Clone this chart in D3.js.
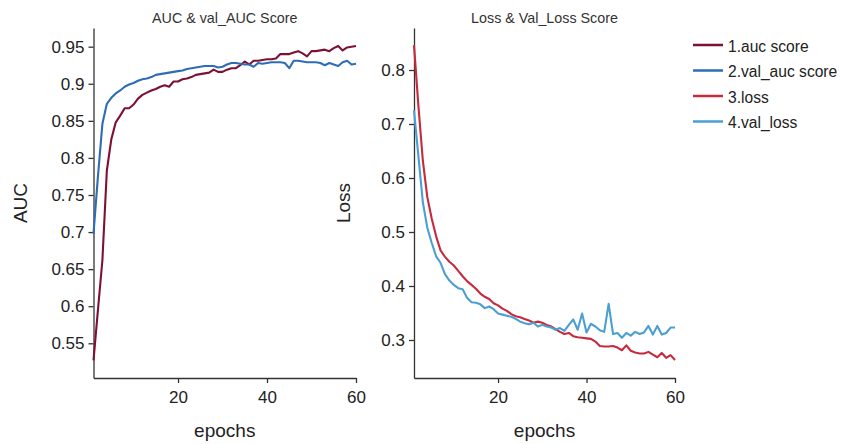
<!DOCTYPE html>
<html>
<head>
<meta charset="utf-8">
<script src="https://cdn.jsdelivr.net/npm/d3@7"></script>
<style>
  body { margin: 0; background: #fff; }
  svg { display: block; font-family: "Liberation Sans", Arial, sans-serif; }
  .axis path, .axis line { stroke: #333; stroke-width: 1.3; }
  .axis text { fill: #222; font-size: 17px; }
</style>
</head>
<body>
<div id="chart"></div>
<script>
// ---- data ----
const epochs = d3.range(1, 61);

const aucScore = [
  0.527, 0.595, 0.662, 0.783, 0.825, 0.848, 0.857, 0.867, 0.867, 0.872,
  0.880, 0.885, 0.888, 0.891, 0.893, 0.896, 0.898, 0.896, 0.903, 0.903,
  0.906, 0.907, 0.909, 0.912, 0.913, 0.914, 0.915, 0.919, 0.916, 0.916,
  0.919, 0.921, 0.921, 0.925, 0.930, 0.926, 0.931, 0.931, 0.932, 0.933,
  0.933, 0.934, 0.940, 0.940, 0.940, 0.942, 0.944, 0.941, 0.937, 0.944,
  0.944, 0.945, 0.946, 0.944, 0.948, 0.951, 0.945, 0.949, 0.950, 0.951
];
const valAucScore = [
  0.698, 0.775, 0.846, 0.873, 0.881, 0.887, 0.891, 0.896, 0.899, 0.901,
  0.904, 0.906, 0.907, 0.909, 0.912, 0.913, 0.914, 0.915, 0.916, 0.917,
  0.918, 0.920, 0.921, 0.922, 0.923, 0.924, 0.924, 0.924, 0.922, 0.923,
  0.926, 0.928, 0.928, 0.927, 0.926, 0.926, 0.923, 0.928, 0.927, 0.928,
  0.929, 0.929, 0.929, 0.928, 0.921, 0.931, 0.931, 0.930, 0.929, 0.929,
  0.929, 0.928, 0.925, 0.928, 0.926, 0.924, 0.929, 0.931, 0.926, 0.927
];
const loss = [
  0.846, 0.733, 0.632, 0.565, 0.525, 0.492, 0.466, 0.454, 0.445, 0.438,
  0.428, 0.418, 0.409, 0.402, 0.395, 0.386, 0.380, 0.376, 0.368, 0.364,
  0.358, 0.354, 0.348, 0.344, 0.342, 0.339, 0.336, 0.332, 0.334, 0.332,
  0.328, 0.325, 0.320, 0.315, 0.311, 0.313, 0.307, 0.305, 0.304, 0.303,
  0.302, 0.297, 0.289, 0.288, 0.288, 0.289, 0.286, 0.281, 0.290, 0.280,
  0.277, 0.275, 0.275, 0.278, 0.273, 0.268, 0.276, 0.267, 0.272, 0.263
];
const valLoss = [
  0.725, 0.640, 0.555, 0.508, 0.480, 0.455, 0.443, 0.422, 0.410, 0.402,
  0.396, 0.394, 0.378, 0.370, 0.369, 0.366, 0.359, 0.362, 0.357, 0.349,
  0.347, 0.345, 0.343, 0.339, 0.334, 0.331, 0.329, 0.332, 0.325, 0.328,
  0.325, 0.323, 0.319, 0.322, 0.317, 0.328, 0.338, 0.319, 0.349, 0.314,
  0.330, 0.325, 0.318, 0.315, 0.367, 0.311, 0.313, 0.304, 0.313, 0.308,
  0.315, 0.311, 0.314, 0.326, 0.310, 0.326, 0.310, 0.313, 0.323, 0.323
];

const epochTicks = [20, 40, 60];
const aucTicks = [0.55, 0.6, 0.65, 0.7, 0.75, 0.8, 0.85, 0.9, 0.95];
const lossTicks = [0.3, 0.4, 0.5, 0.6, 0.7, 0.8];
const seriesNames = ['1.auc score', '2.val_auc score', '3.loss', '4.val_loss'];
const seriesColors = ['#7d1134', '#2e6db5', '#c62a3c', '#4b9fd1'];

const width = 843, height = 444;
const svg = d3.select('#chart').append('svg')
  .attr('width', width)
  .attr('height', height);

const fmt = d => String(+d.toFixed(2));

// one panel = title + axes + two lines
function drawPanel(p) {
  const x = d3.scaleLinear().domain([1, 60]).range([p.left, p.right]);
  const y = d3.scaleLinear().domain(p.yDomain).range([378, 28]);
  const g = svg.append('g');

  g.append('g')
    .attr('class', 'axis')
    .attr('transform', 'translate(0,378)')
    .call(d3.axisBottom(x).tickValues(epochTicks).tickSize(5).tickSizeOuter(0).tickPadding(8))
    .call(a => a.selectAll('text').attr('font-size', null));

  g.append('g')
    .attr('class', 'axis')
    .attr('transform', `translate(${p.left},0)`)
    .call(d3.axisLeft(y).tickValues(p.yTicks).tickFormat(fmt).tickSize(5).tickSizeOuter(0).tickPadding(4));

  g.selectAll('.axis text').attr('font-family', null).attr('font-size', null);

  const line = d3.line()
    .x((d, i) => x(epochs[i]))
    .y(d => y(d));

  p.series.forEach((s, k) => {
    g.append('path')
      .datum(s)
      .attr('fill', 'none')
      .attr('stroke', p.colors[k])
      .attr('stroke-width', 2.1)
      .attr('stroke-linejoin', 'round')
      .attr('d', line);
  });

  const mid = (p.left + p.right) / 2;
  g.append('text')
    .attr('x', mid).attr('y', 23)
    .attr('text-anchor', 'middle')
    .attr('font-size', 14.3)
    .attr('fill', '#333')
    .text(p.title);

  g.append('text')
    .attr('x', mid).attr('y', 437)
    .attr('text-anchor', 'middle')
    .attr('font-size', 19)
    .attr('fill', '#222')
    .text('epochs');

  g.append('text')
    .attr('transform', `translate(${p.yLabelX},203) rotate(-90)`)
    .attr('text-anchor', 'middle')
    .attr('font-size', 19)
    .attr('fill', '#222')
    .text(p.yLabel);
}

drawPanel({
  left: 93.5, right: 356,
  yDomain: [0.5032, 0.9752],
  yTicks: aucTicks,
  series: [aucScore, valAucScore],
  colors: seriesColors.slice(0, 2),
  title: 'AUC & val_AUC Score',
  yLabel: 'AUC', yLabelX: 26.5
});

drawPanel({
  left: 414, right: 675,
  yDomain: [0.2296, 0.8778],
  yTicks: lossTicks,
  series: [loss, valLoss],
  colors: seriesColors.slice(2, 4),
  title: 'Loss & Val_Loss Score',
  yLabel: 'Loss', yLabelX: 350
});

// legend
const legend = svg.append('g').attr('transform', 'translate(693,45)');
const rows = legend.selectAll('g')
  .data(seriesNames)
  .enter().append('g')
    .attr('transform', (d, i) => `translate(0,${i * 25.5})`);
rows.append('line')
  .attr('x1', 0).attr('x2', 30)
  .attr('stroke', (d, i) => seriesColors[i])
  .attr('stroke-width', 2.5);
rows.append('text')
  .attr('x', 35).attr('y', 6.5)
  .attr('font-size', 15.6)
  .attr('fill', '#222')
  .text(d => d);
</script>
</body>
</html>
